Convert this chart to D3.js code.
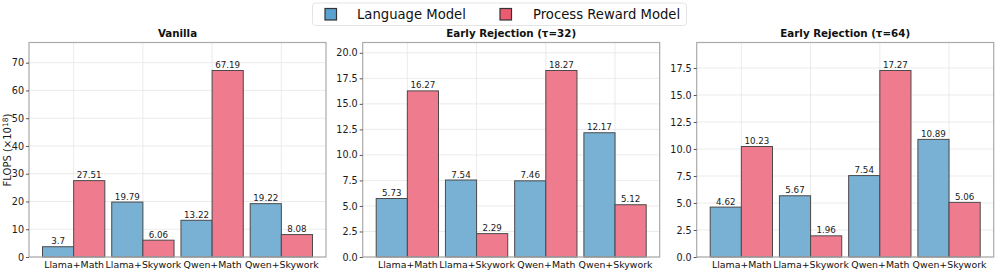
<!DOCTYPE html>
<html><head><meta charset="utf-8">
<script src="https://cdn.jsdelivr.net/npm/d3@7"></script>
<style>body{margin:0;background:#fff;} svg{display:block;font-family:"DejaVu Sans",sans-serif;}</style>
</head><body>
<svg id="chart" width="997" height="271"></svg>
<script>
const categories = ["Llama+Math","Llama+Skywork","Qwen+Math","Qwen+Skywork"];
const seriesNames = ["Language Model","Process Reward Model"];
const panelTitles = ["Vanilla","Early Rejection (τ=32)","Early Rejection (τ=64)"];
const lmValues = [[3.7,19.79,13.22,19.22],[5.73,7.54,7.46,12.17],[4.62,5.67,7.54,10.89]];
const prmValues = [[27.51,6.06,67.19,8.08],[16.27,2.29,18.27,5.12],[10.23,1.96,17.27,5.06]];
const yTicks = [[0,10,20,30,40,50,60,70],[0,2.5,5,7.5,10,12.5,15,17.5,20],[0,2.5,5,7.5,10,12.5,15,17.5]];
const yTickFmt = [d3.format("d"), d3.format(".1f"), d3.format(".1f")];

const barFill = ["#78b1d3","#ef7c8e"];
const legendFill = ["#5aa2d0","#eb5c72"];
const svg = d3.select("#chart");
const panelLeft = [29, 362.7, 696.7];
const pw = 297, plotTop = 42.5, plotBottom = 257;
const bw = 0.45;

panelTitles.forEach((title, p) => {
  const g = svg.append("g").attr("transform", `translate(${panelLeft[p]},0)`);
  const lm = lmValues[p], prm = prmValues[p];
  const ymax = d3.max(lm.concat(prm)) * 1.15;
  const x = d3.scaleLinear().domain([-bw - 0.195, 3 + bw + 0.195]).range([0, pw]);
  const y = d3.scaleLinear().domain([0, ymax]).range([plotBottom, plotTop]);

  // grid
  g.append("g").selectAll("line").data(yTicks[p]).join("line")
    .attr("x1", 0).attr("x2", pw).attr("y1", d => y(d)).attr("y2", d => y(d))
    .attr("stroke", "#e6e6e6").attr("stroke-width", 0.8);
  g.append("g").selectAll("line").data(categories).join("line")
    .attr("x1", (d,i) => x(i)).attr("x2", (d,i) => x(i)).attr("y1", plotTop).attr("y2", plotBottom)
    .attr("stroke", "#e6e6e6").attr("stroke-width", 0.8);

  // bars
  const series = [lm, prm];
  series.forEach((vals, s) => {
    const x0 = s === 0 ? -bw : 0;
    g.append("g").selectAll("rect").data(vals).join("rect")
      .attr("x", (d,i) => x(i + x0)).attr("width", x(bw) - x(0))
      .attr("y", d => y(d)).attr("height", d => y(0) - y(d))
      .attr("fill", barFill[s]).attr("stroke", "#4a4a4a").attr("stroke-width", 1);
    g.append("g").selectAll("text").data(vals).join("text")
      .attr("x", (d,i) => x(i + x0 + bw/2)).attr("y", d => y(d) - 2.5)
      .attr("text-anchor", "middle").attr("font-size", 8.7).attr("fill", "#1a1a1a")
      .text(d => d);
  });

  // frame
  g.append("rect").attr("x", 0).attr("y", plotTop).attr("width", pw).attr("height", plotBottom - plotTop)
    .attr("fill", "none").attr("stroke", "#aaaaaa").attr("stroke-width", 1.2);

  // y axis
  const ya = d3.axisLeft(y).tickValues(yTicks[p]).tickFormat(yTickFmt[p]).tickSize(3).tickPadding(2);
  const yg = g.append("g").call(ya);
  yg.select(".domain").remove();
  yg.selectAll("line").attr("stroke", "#555");
  yg.selectAll("text").attr("font-size", 9.6).attr("fill", "#1a1a1a").attr("font-family", "DejaVu Sans");

  // x axis labels
  const xa = d3.axisBottom(x).tickValues([0,1,2,3]).tickFormat(i => categories[i]).tickSize(0).tickPadding(4);
  const xg = g.append("g").attr("transform", `translate(0,${plotBottom})`).call(xa);
  xg.select(".domain").remove();
  xg.selectAll("text").attr("font-size", 9.4).attr("fill", "#111").attr("font-family", "DejaVu Sans");

  // title
  g.append("text").attr("x", pw/2).attr("y", 37).attr("text-anchor", "middle")
    .attr("font-size", 10.3).attr("font-weight", "bold").attr("fill", "#111").text(title);
});

// y label
svg.append("text").attr("transform", "translate(11,150) rotate(-90)").attr("text-anchor", "middle")
  .attr("font-size", 10).attr("fill", "#1a1a1a")
  .call(t => { t.append("tspan").text("FLOPS (×10"); t.append("tspan").attr("dy", -3.5).attr("font-size", 7.5).text("18"); t.append("tspan").attr("dy", 3.5).text(")"); });

// legend
const lg = svg.append("g");
lg.append("rect").attr("x", 312.5).attr("y", 3).attr("width", 374).attr("height", 22.5).attr("rx", 3)
  .attr("fill", "#fff").attr("stroke", "#dddddd").attr("stroke-width", 0.8);
const legX = [325, 500], legTX = [357, 533];
seriesNames.forEach((n, i) => {
  lg.append("rect").attr("x", legX[i]).attr("y", 8.5).attr("width", 11.5).attr("height", 11.5)
    .attr("fill", legendFill[i]).attr("stroke", "#333").attr("stroke-width", 1.2);
  lg.append("text").attr("x", legTX[i]).attr("y", 19).attr("font-size", 13.2).attr("fill", "#111").text(n);
});
</script>
</body></html>
